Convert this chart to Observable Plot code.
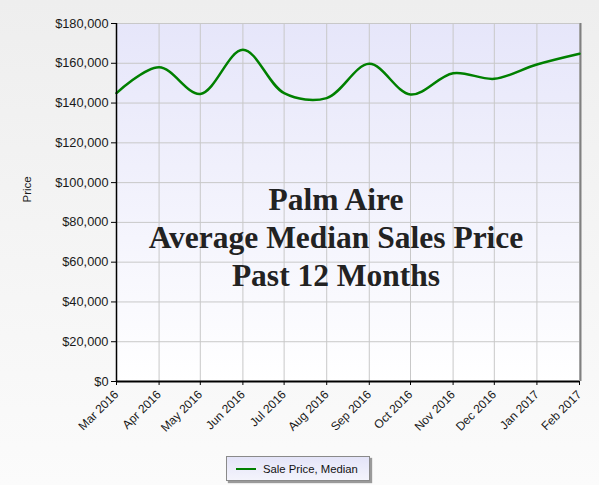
<!DOCTYPE html>
<html>
<head>
<meta charset="utf-8">
<script src="https://cdn.jsdelivr.net/npm/d3@7"></script>
<script src="https://cdn.jsdelivr.net/npm/@observablehq/plot@0.6"></script>
<style>
  html, body { margin: 0; padding: 0; }
  body { width: 599px; height: 485px; background: linear-gradient(#eeeeee, #fbfbfb); font-family: "Liberation Sans", Arial, sans-serif; overflow: hidden; position: relative; }
  #chart svg { display: block; }
  #legend { position: absolute; left: 226px; top: 456px; width: 142px; height: 23px; border: 1px solid #8a8a8a; background: linear-gradient(#e4e4f8, #f4f4fc); box-shadow: 2px 2px 1px #9a9a9a; font-size: 11.3px; color: #111; display: flex; align-items: center; box-sizing: content-box; }
  #legend .sw { width: 20px; height: 0; border-top: 2.5px solid #008000; margin-left: 9px; margin-right: 7px; }
</style>
</head>
<body>
<div id="chart"></div>
<div id="legend"><div class="sw"></div><span>Sale Price, Median</span></div>
<script>
const months = ["2016-03-01","2016-04-01","2016-05-01","2016-06-01","2016-07-01","2016-08-01","2016-09-01","2016-10-01","2016-11-01","2016-12-01","2017-01-01","2017-02-01"];
const prices = [145000, 158000, 144600, 166800, 145000, 142500, 159700, 144300, 155000, 152200, 159400, 164800];
const yTicks = [0, 20000, 40000, 60000, 80000, 100000, 120000, 140000, 160000, 180000];
const seriesName = "Sale Price, Median";
const yLabel = "Price";
const titleText = "Palm Aire\nAverage Median Sales Price\nPast 12 Months";

const data = months.map((m, i) => ({date: new Date(m + "T00:00:00Z"), price: prices[i]}));
const dates = data.map(d => d.date);

const plot = Plot.plot({
  width: 599,
  height: 452,
  marginLeft: 116,
  marginRight: 20,
  marginTop: 23,
  marginBottom: 71,
  style: {background: "transparent", fontFamily: "Liberation Sans, Arial, sans-serif", color: "#1a1a1a"},
  x: {type: "utc", domain: [dates[0], dates[dates.length - 1]]},
  y: {domain: [0, 180000]},
  marks: [
    Plot.frame({fill: "url(#plotbg)", stroke: null}),
    Plot.gridX(dates, {stroke: "#c8c8c8", strokeOpacity: 1, strokeWidth: 1}),
    Plot.gridY(yTicks, {stroke: "#c8c8c8", strokeOpacity: 1, strokeWidth: 1}),
    Plot.ruleX([dates[dates.length - 1]], {stroke: "#808080", strokeWidth: 2, dx: 1}),
    Plot.text([titleText], {frameAnchor: "middle", dx: -12, dy: 33, fontSize: 31.5, fontWeight: "bold", fontFamily: "Liberation Serif, serif", fill: "#222", lineHeight: 1.21}),
    Plot.line(data, {x: "date", y: "price", stroke: "#008000", strokeWidth: 2.5, curve: "catmull-rom"}),
    Plot.ruleY([0], {stroke: "#000", strokeWidth: 2}),
    Plot.ruleX([dates[0]], {stroke: "#000", strokeWidth: 1.5}),
    Plot.axisY(yTicks, {tickFormat: d => "$" + d3.format(",")(d), fontSize: 12.8, tickSize: 5, tickPadding: 3, label: null, stroke: "#000"}),
    Plot.axisX(dates, {tickFormat: d3.utcFormat("%b %Y"), tickRotate: -45, fontSize: 12, tickSize: 4, tickPadding: 7, label: null, stroke: "#000"}),
    Plot.text([yLabel], {frameAnchor: "left", dx: -89, rotate: -90, fontSize: 11.5, fill: "#1a1a1a"})
  ]
});

const ns = "http://www.w3.org/2000/svg";
const defs = document.createElementNS(ns, "defs");
defs.innerHTML = '<linearGradient id="plotbg" x1="0" y1="0" x2="0" y2="1"><stop offset="0" stop-color="#e6e6fa"/><stop offset="1" stop-color="#ffffff"/></linearGradient>';
plot.insertBefore(defs, plot.firstChild);
document.getElementById("chart").appendChild(plot);
</script>
</body>
</html>
